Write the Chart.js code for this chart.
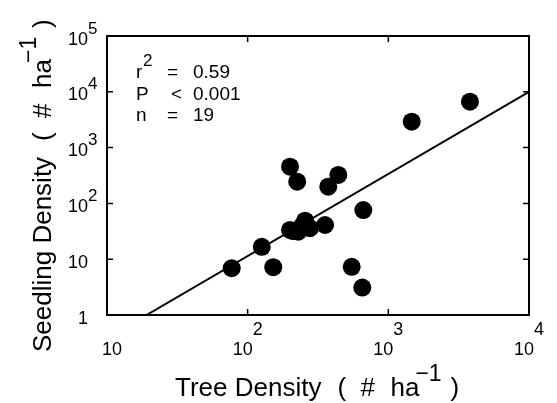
<!DOCTYPE html>
<html>
<head>
<meta charset="utf-8">
<script src="https://cdn.jsdelivr.net/npm/chart.js@4/dist/chart.umd.min.js"></script>
<style>
  html, body { margin: 0; padding: 0; background: #fff; }
  #wrap { width: 557px; height: 403px; position: relative; }
</style>
</head>
<body>
<div id="wrap"><canvas id="c" width="557" height="403"></canvas></div>
<script>
// ---- data ----
const treeDensity     = [77, 126, 152, 200, 225, 200, 229, 256, 355, 374, 441, 664, 549, 653, 1466, 3805, 243, 277, 210];
const seedlingDensity = [6.9, 16.7, 7.2, 455, 245, 33.4, 31.1, 49, 41, 199, 323, 76, 7.3, 3.1, 2912, 6650, 39, 36, 32];
const fitX = [19.1, 10000];
const fitY = [1, 10000];
const xTickValues = [10, 100, 1000, 10000];
const xTickLabels = ['10', '10^2', '10^3', '10^4'];
const yTickValues = [1, 10, 100, 1000, 10000, 100000];
const yTickLabels = ['1', '10', '10^2', '10^3', '10^4', '10^5'];
const statsRows = [['r', '2', '=', '0.59'], ['P', '', '<', '0.001'], ['n', '', '=', '19']];
const xTitle = ['Tree Density', '(', '#', 'ha', '\u22121', ')'];
const yTitle = ['Seedling Density', '(', '#', 'ha', '\u22121', ')'];

const FONT = "'Liberation Sans', Arial, Helvetica, sans-serif";

const points = treeDensity.map((x, i) => ({ x: x, y: seedlingDensity[i] }));
const fitLine = fitX.map((x, i) => ({ x: x, y: fitY[i] }));

function splitLabel(s) {
  const p = s.split('^');
  return { base: p[0], sup: p[1] || '' };
}

// title layout: offsets after the main phrase (in px)
const titleOffsets = [16, 39, 69, 96, 129];
function drawTitle(ctx, pieces) {
  ctx.font = '26px ' + FONT;
  const w = ctx.measureText(pieces[0]).width;
  ctx.fillText(pieces[0], 0, 0);
  ctx.fillText(pieces[1], w + titleOffsets[0], 0);
  ctx.fillText(pieces[2], w + titleOffsets[1], 0);
  ctx.fillText(pieces[3], w + titleOffsets[2], 0);
  ctx.font = '23px ' + FONT;
  ctx.fillText(pieces[4], w + titleOffsets[3] - 2, -15);
  ctx.font = '26px ' + FONT;
  ctx.fillText(pieces[5], w + titleOffsets[4], 0);
}

const decorPlugin = {
  id: 'decor',
  afterDatasetsDraw(chart) {
    const ctx = chart.ctx;
    const a = chart.chartArea;
    const xs = chart.scales.x, ys = chart.scales.y;
    ctx.save();
    ctx.fillStyle = '#000';
    ctx.strokeStyle = '#000';
    // frame
    ctx.lineWidth = 2;
    ctx.strokeRect(a.left, a.top, a.right - a.left, a.bottom - a.top);
    // inward ticks
    ctx.lineWidth = 1.5;
    ctx.beginPath();
    xTickValues.forEach(v => {
      const px = xs.getPixelForValue(v);
      if (px <= a.left + 1 || px >= a.right - 1) return;
      ctx.moveTo(px, a.bottom); ctx.lineTo(px, a.bottom - 6);
      ctx.moveTo(px, a.top); ctx.lineTo(px, a.top + 6);
    });
    yTickValues.forEach(v => {
      const py = ys.getPixelForValue(v);
      if (py >= a.bottom - 1 || py <= a.top + 1) return;
      ctx.moveTo(a.left, py); ctx.lineTo(a.left + 6, py);
      ctx.moveTo(a.right, py); ctx.lineTo(a.right - 6, py);
    });
    ctx.stroke();

    // x tick labels
    ctx.textBaseline = 'alphabetic';
    ctx.textAlign = 'left';
    xTickValues.forEach((v, i) => {
      const l = splitLabel(xTickLabels[i]);
      const px = xs.getPixelForValue(v);
      ctx.font = '18px ' + FONT;
      const wb = ctx.measureText(l.base).width;
      ctx.font = '18px ' + FONT;
      const ws = l.sup ? ctx.measureText(l.sup).width : 0;
      const x0 = px - (wb + ws) / 2 + (l.sup ? 0 : 5);
      ctx.font = '18px ' + FONT;
      ctx.fillText(l.base, x0, a.bottom + 40);
      if (l.sup) {
        ctx.font = '18px ' + FONT;
        ctx.fillText(l.sup, x0 + wb, a.bottom + 20);
      }
    });
    // y tick labels
    yTickValues.forEach((v, i) => {
      const l = splitLabel(yTickLabels[i]);
      const py = ys.getPixelForValue(v);
      ctx.font = '18px ' + FONT;
      ctx.textAlign = 'right';
      ctx.fillText(l.base, a.left - 19, py + 8.5);
      if (l.sup) {
        ctx.textAlign = 'left';
        ctx.font = '17px ' + FONT;
        ctx.fillText(l.sup, a.left - 19, py - 2.5);
      }
    });

    // stats text
    ctx.textAlign = 'left';
    const rowBase = [78, 100, 121];
    statsRows.forEach((r, i) => {
      ctx.font = '19px ' + FONT;
      ctx.fillText(r[0], a.left + 29, rowBase[i]);
      if (r[1]) { ctx.font = '17px ' + FONT; ctx.fillText(r[1], a.left + 36, rowBase[i] - 12); }
      ctx.font = '19px ' + FONT;
      ctx.fillText(r[2], a.left + (r[2] === '<' ? 64 : 60), rowBase[i]);
      ctx.fillText(r[3], a.left + 86, rowBase[i]);
    });

    // axis titles
    ctx.save();
    ctx.translate(175, 396);
    drawTitle(ctx, xTitle);
    ctx.restore();
    ctx.save();
    ctx.translate(51, 352);
    ctx.rotate(-Math.PI / 2);
    drawTitle(ctx, yTitle);
    ctx.restore();
    ctx.restore();
  }
};

new Chart(document.getElementById('c'), {
  type: 'scatter',
  data: {
    datasets: [
      {
        type: 'line',
        data: fitLine,
        borderColor: '#000',
        borderWidth: 2,
        pointRadius: 0,
        fill: false,
        tension: 0,
        order: 2
      },
      {
        data: points,
        backgroundColor: '#000',
        borderColor: '#000',
        borderWidth: 0,
        pointRadius: 9,
        pointHoverRadius: 9,
        order: 1
      }
    ]
  },
  options: {
    responsive: false,
    animation: false,
    devicePixelRatio: 1,
    layout: { padding: { left: 107, right: 28, top: 36, bottom: 88 } },
    plugins: { legend: { display: false }, tooltip: { enabled: false } },
    scales: {
      x: {
        type: 'logarithmic', min: 10, max: 10000,
        display: false
      },
      y: {
        type: 'logarithmic', min: 1, max: 100000,
        display: false
      }
    }
  },
  plugins: [decorPlugin]
});
</script>
</body>
</html>
